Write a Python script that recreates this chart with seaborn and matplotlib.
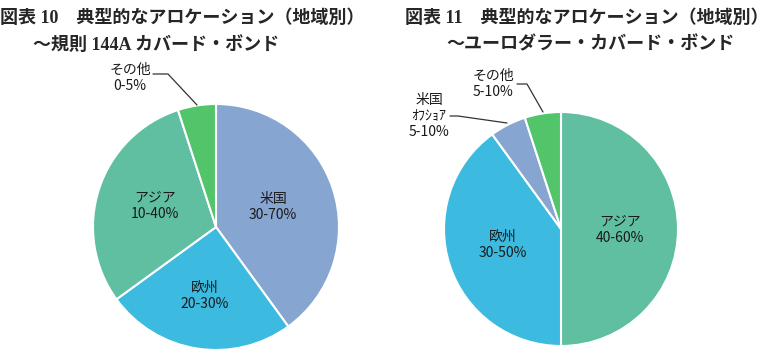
import seaborn as sns
import matplotlib.pyplot as plt

# data
left_regions = ['米国', '欧州', 'アジア', 'その他']
left_shares = [40, 25, 30, 5]
left_ranges = ['30-70%', '20-30%', '10-40%', '0-5%']

right_regions = ['アジア', '欧州', '米国\nｵﾌｼｮｱ', 'その他']
right_shares = [50, 40, 5, 5]
right_ranges = ['40-60%', '30-50%', '5-10%', '5-10%']

left_title = ['図表 10　典型的なアロケーション（地域別）', '～規則 144A カバード・ボンド']
right_title = ['図表 11　典型的なアロケーション（地域別）', '～ユーロダラー・カバード・ボンド']

COLORS = {
    '米国': '#87A5D1',
    '米国\nｵﾌｼｮｱ': '#87A5D1',
    '欧州': '#3CBAE0',
    'アジア': '#5FBFA0',
    'その他': '#52C46A',
}

W, H = 759, 355


def draw_pie(ax, regions, shares, ranges, center, radius, label_pos, leaders):
    colors = sns.color_palette([COLORS[r] for r in regions])
    ax.pie(shares, colors=colors, startangle=90, counterclock=False,
           center=(center[0], H - center[1]), radius=radius,
           wedgeprops=dict(edgecolor='white', linewidth=1.5))
    for reg, rng, (x, y) in zip(regions, ranges, label_pos):
        ax.text(x, H - y, f"{reg}\n{rng}", ha='center', va='center',
                fontsize=10, linespacing=1.2, color='#1a1a1a',
                family=['Noto Sans CJK JP', 'DejaVu Sans'])
    for pts in leaders:
        ax.plot([p[0] for p in pts], [H - p[1] for p in pts],
                color='#333333', lw=0.9)


def main():
    sns.set_theme(style='white')
    plt.rcParams['font.family'] = ['Noto Sans CJK JP', 'DejaVu Sans']

    fig = plt.figure(figsize=(W / 100, H / 100), dpi=100)
    ax = fig.add_axes([0, 0, 1, 1])

    draw_pie(ax, left_regions, left_shares, left_ranges,
             center=(216, 227), radius=123,
             label_pos=[(273, 207), (205, 296), (155, 206), (130, 78)],
             leaders=[[(153, 74), (168, 74), (197, 105)]])

    draw_pie(ax, right_regions, right_shares, right_ranges,
             center=(561, 229), radius=117,
             label_pos=[(620, 230), (503, 245), (429, 116), (493, 84)],
             leaders=[[(450, 116), (458, 116), (507, 123)],
                      [(517, 84), (527, 84), (543, 112)]])

    # pie() resets the limits, so fix them afterwards
    ax.set_xlim(0, W)
    ax.set_ylim(0, H)
    ax.set_aspect('equal')
    ax.axis('off')

    title_font = ['Liberation Serif', 'Noto Sans CJK JP']
    ax.text(0, H - 18, left_title[0], ha='left', va='center', fontsize=13,
            fontweight='bold', family=title_font)
    ax.text(33, H - 45, left_title[1], ha='left', va='center', fontsize=13,
            fontweight='bold', family=title_font)
    ax.text(405, H - 18, right_title[0], ha='left', va='center', fontsize=13,
            fontweight='bold', family=title_font)
    ax.text(446, H - 45, right_title[1], ha='left', va='center', fontsize=13,
            fontweight='bold', family=title_font)

    fig.savefig('out.png', dpi=100)


if __name__ == '__main__':
    main()
